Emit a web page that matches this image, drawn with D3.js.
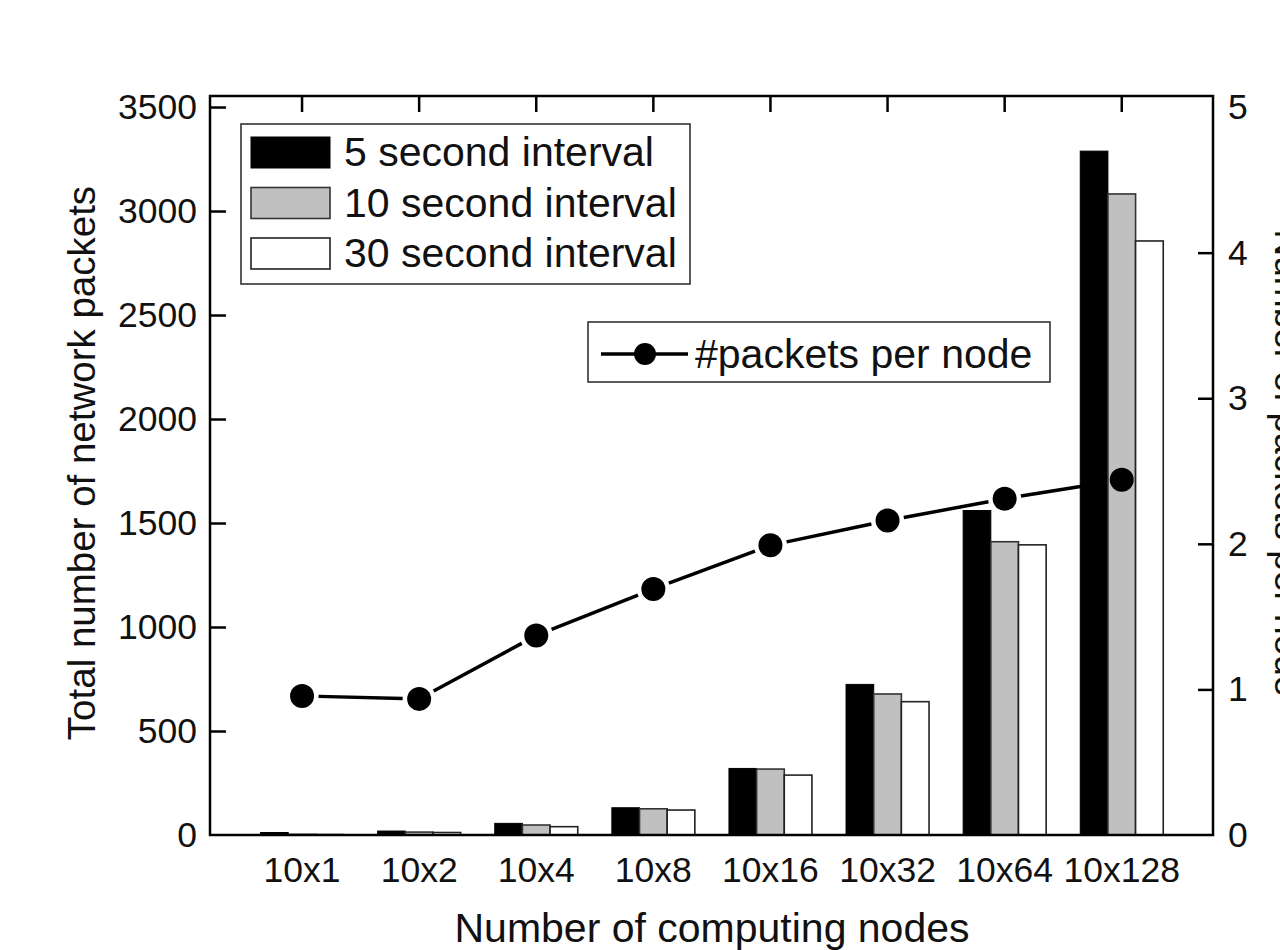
<!DOCTYPE html>
<html>
<head>
<meta charset="utf-8">
<script src="https://cdn.jsdelivr.net/npm/d3@7"></script>
<style>
  html, body { margin: 0; padding: 0; background: #fff; }
  svg { display: block; font-family: "Liberation Sans", Arial, sans-serif; }
</style>
</head>
<body>
<svg id="chart" width="1280" height="950"></svg>
<script>
// ---- data ----
const categories = ["10x1", "10x2", "10x4", "10x8", "10x16", "10x32", "10x64", "10x128"];
const seriesNames = ["5 second interval", "10 second interval", "30 second interval"];
const packets5s  = [12, 19, 56, 131, 320, 724, 1560, 3288];
const packets10s = [3, 14, 48, 126, 317, 678, 1410, 3082];
const packets30s = [2, 12, 40, 120, 288, 641, 1395, 2856];
const perNodeName = "#packets per node";
const packetsPerNode = [0.955, 0.935, 1.37, 1.69, 1.99, 2.16, 2.31, 2.44];
const leftTicks = [0, 500, 1000, 1500, 2000, 2500, 3000, 3500];
const rightTicks = [0, 1, 2, 3, 4, 5];

const svg = d3.select("#chart");
const frame = { left: 210, right: 1213, top: 96, bottom: 835 };

const x = d3.scaleBand().domain(categories).range([243.5, 1180.3]).padding(0);
const xs = d3.scaleBand().domain(seriesNames).range([-41.5, 41.5]).padding(0);
const yL = d3.scaleLinear().domain([0, 3553]).range([frame.bottom, frame.top]);
const yR = d3.scaleLinear().domain([0, 5.076]).range([frame.bottom, frame.top]);

const fills = ["#000000", "#c0c0c0", "#ffffff"];
const strokes = ["#000000", "#333333", "#222222"];
const seriesData = [packets5s, packets10s, packets30s];

// ---- line (drawn first, under bars) ----
const pts = categories.map((c, i) => [x(c) + x.bandwidth() / 2, yR(packetsPerNode[i])]);
const r = 12, gap = 4.5;
const segs = d3.pairs(pts).map(([a, b]) => {
  const dx = b[0] - a[0], dy = b[1] - a[1], L = Math.hypot(dx, dy);
  const ux = dx / L, uy = dy / L, s = r + gap;
  return [[a[0] + ux * s, a[1] + uy * s], [b[0] - ux * s, b[1] - uy * s]];
});
svg.append("g").selectAll("line").data(segs).join("line")
  .attr("x1", d => d[0][0]).attr("y1", d => d[0][1])
  .attr("x2", d => d[1][0]).attr("y2", d => d[1][1])
  .attr("stroke", "#000").attr("stroke-width", 3.5);

// ---- bars ----
const gBars = svg.append("g");
seriesData.forEach((vals, si) => {
  gBars.append("g").selectAll("rect").data(vals).join("rect")
    .attr("x", (d, i) => x(categories[i]) + x.bandwidth() / 2 + xs(seriesNames[si]))
    .attr("width", xs.bandwidth())
    .attr("y", d => yL(d))
    .attr("height", d => yL(0) - yL(d))
    .attr("fill", fills[si])
    .attr("stroke", strokes[si])
    .attr("stroke-width", si === 0 ? 1 : 1.6);
});

// ---- markers ----
svg.append("g").selectAll("circle").data(pts).join("circle")
  .attr("cx", d => d[0]).attr("cy", d => d[1]).attr("r", r).attr("fill", "#000");

// ---- frame ----
svg.append("rect")
  .attr("x", frame.left).attr("y", frame.top)
  .attr("width", frame.right - frame.left).attr("height", frame.bottom - frame.top)
  .attr("fill", "none").attr("stroke", "#000").attr("stroke-width", 2.5);

// ---- axes ----
const fs = 35.5;
const leftAxis = d3.axisLeft(yL).tickValues(leftTicks).tickSize(-16).tickPadding(13).tickFormat(d3.format("d"));
const gl = svg.append("g").attr("transform", `translate(${frame.left},0)`).call(leftAxis);
const rightAxis = d3.axisRight(yR).tickValues(rightTicks).tickSize(-15).tickPadding(15).tickFormat(d3.format("d"));
const gr = svg.append("g").attr("transform", `translate(${frame.right},0)`).call(rightAxis);
const topAxis = d3.axisTop(x).tickSize(-16).tickFormat("");
const gt = svg.append("g").attr("transform", `translate(0,${frame.top})`).call(topAxis);
const bottomAxis = d3.axisBottom(x).tickSize(0).tickPadding(22);
const gb = svg.append("g").attr("transform", `translate(0,${frame.bottom})`).call(bottomAxis);

[gl, gr, gt, gb].forEach(g => {
  g.select(".domain").remove();
  g.selectAll(".tick line").attr("stroke", "#000").attr("stroke-width", 2.5);
  g.selectAll("text").attr("font-size", fs).attr("font-family", "Liberation Sans, Arial, sans-serif").attr("fill", "#111");
});
gr.selectAll(".tick").filter(d => d === 5).select("line").remove();
gl.selectAll(".tick").filter(d => d === 0).select("line").remove();
gr.selectAll(".tick").filter(d => d === 0).select("line").remove();

// ---- axis titles ----
svg.append("text")
  .attr("transform", "translate(95,463) rotate(-90)")
  .attr("text-anchor", "middle").attr("font-size", 38.5).attr("fill", "#111")
  .text("Total number of network packets");
svg.append("text")
  .attr("x", 712).attr("y", 942)
  .attr("text-anchor", "middle").attr("font-size", 41).attr("fill", "#111")
  .text("Number of computing nodes");
svg.append("text")
  .attr("transform", "translate(1275,463) rotate(90)")
  .attr("text-anchor", "middle").attr("font-size", 37).attr("fill", "#111")
  .text("Number of packets per node");

// ---- legend 1 (bars) ----
const lg = svg.append("g");
lg.append("rect").attr("x", 241).attr("y", 124).attr("width", 449).attr("height", 160)
  .attr("fill", "#fff").attr("stroke", "#333").attr("stroke-width", 1.6);
seriesNames.forEach((name, si) => {
  const yy = 137 + si * 50.5;
  lg.append("rect").attr("x", 251).attr("y", yy).attr("width", 79).attr("height", 31)
    .attr("fill", fills[si]).attr("stroke", strokes[si]).attr("stroke-width", si === 0 ? 1 : 1.6);
  lg.append("text").attr("x", 344).attr("y", yy + 29).attr("font-size", 41).attr("fill", "#111").text(name);
});

// ---- legend 2 (line) ----
const lg2 = svg.append("g");
lg2.append("rect").attr("x", 588).attr("y", 322).attr("width", 462).attr("height", 60)
  .attr("fill", "#fff").attr("stroke", "#333").attr("stroke-width", 1.6);
lg2.append("line").attr("x1", 601).attr("x2", 688).attr("y1", 354).attr("y2", 354)
  .attr("stroke", "#000").attr("stroke-width", 3.5);
lg2.append("circle").attr("cx", 645).attr("cy", 354).attr("r", 11).attr("fill", "#000");
lg2.append("text").attr("x", 695).attr("y", 368).attr("font-size", 41).attr("fill", "#111").text(perNodeName);
</script>
</body>
</html>
